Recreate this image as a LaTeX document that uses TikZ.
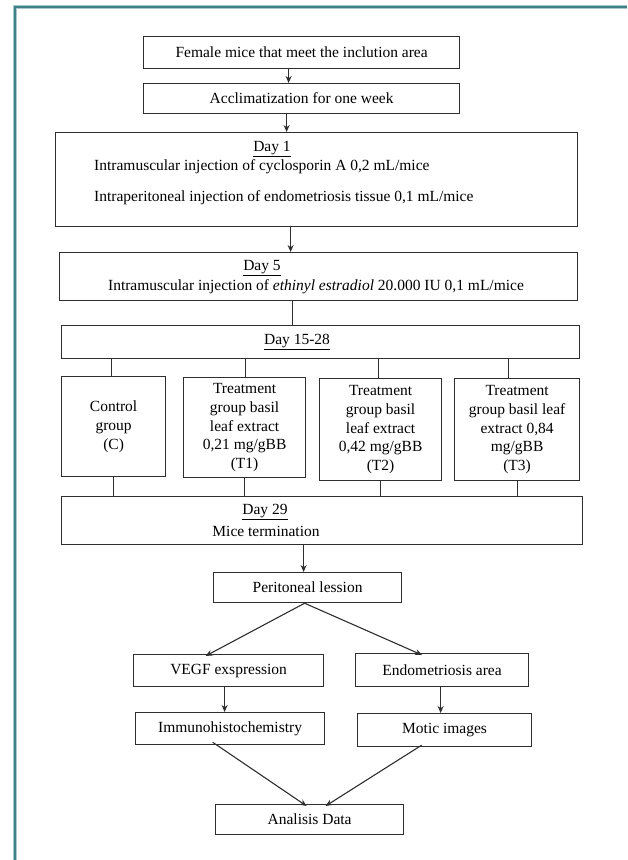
\documentclass[tikz,border=0pt]{standalone}
\usepackage{fontspec}
\setmainfont{Liberation Serif}
\usetikzlibrary{arrows.meta,calc}
\newcommand\myfs{\fontsize{15.5}{18.7}\selectfont}
\definecolor{framec}{HTML}{3F8087}
\definecolor{framel}{HTML}{A9CACD}
\definecolor{linec}{HTML}{2E2E2E}
\begin{document}
\begin{tikzpicture}[x=1pt,y=-1pt,
  box/.style={draw=linec, line width=1.2pt, inner sep=0pt, anchor=north west, font=\myfs, text=black},
  grp/.style={box, align=center},
  txt/.style={inner sep=0pt, font=\myfs},
  conn/.style={draw=linec, line width=1.1pt},
  arr/.style={conn, -{Stealth[length=7pt,width=6pt]}}
]
\useasboundingbox (0,0) rectangle (627,860);
% frame
\draw[framel, line width=4.2pt] (14.8,860) -- (14.8,7) -- (627,7);
\draw[framec, line width=2.6pt] (14.8,860) -- (14.8,7) -- (627,7);

% boxes
\node[box, minimum width=316pt, minimum height=32pt] (b1) at (143,36) {Female mice that meet the inclution area};
\node[box, minimum width=316pt, minimum height=30pt] (b2) at (143,83) {Acclimatization for one week};
\node[box, minimum width=522pt, minimum height=94pt] (b3) at (55,132) {};
\node[box, minimum width=518pt, minimum height=48pt] (b4) at (59,252) {};
\node[box, minimum width=518pt, minimum height=33pt] (b5) at (61,325) {};
\node[grp, minimum width=104pt, minimum height=100pt] (gC) at (61,376) {Control\\group\\(C)};
\node[grp, minimum width=122pt, minimum height=100pt] (g1) at (183,377) {Treatment\\group basil\\leaf extract\\0,21 mg/gBB\\(T1)};
\node[grp, minimum width=122pt, minimum height=102pt] (g2) at (319,378) {Treatment\\group basil\\leaf extract\\0,42 mg/gBB\\(T2)};
\node[grp, minimum width=125pt, minimum height=102pt] (g3) at (454,378) {Treatment\\group basil leaf\\extract 0,84\\mg/gBB\\(T3)};
\node[box, minimum width=521pt, minimum height=48pt] (b6) at (61,496) {};
\node[box, minimum width=188pt, minimum height=30pt] (per) at (213,572) {Peritoneal lession};
\node[box, minimum width=190pt, minimum height=32pt] (vegf) at (133,654) {VEGF exspression};
\node[box, minimum width=173pt, minimum height=33pt] (endo) at (355,653) {Endometriosis area};
\node[box, minimum width=189pt, minimum height=32pt] (imm) at (135,712) {Immunohistochemistry};
\node[box, minimum width=174pt, minimum height=33pt] (motic) at (357,713) {Motic images};
\node[box, minimum width=188pt, minimum height=30pt] (ana) at (215,804) {Analisis Data};

% texts inside multi-line boxes
\node[txt] (d1) at (272,149) {\underline{Day 1}};
\node[txt, anchor=west] (l1) at (94,167) {Intramuscular injection of cyclosporin A 0,2 mL/mice};
\node[txt, anchor=west] (l2) at (94,198) {Intraperitoneal injection of endometriosis tissue 0,1 mL/mice};
\node[txt] (d5) at (262,268) {\underline{Day 5}};
\node[txt] (l5) at (316,287) {Intramuscular injection of \textit{ethinyl estradiol} 20.000 IU 0,1 mL/mice};
\node[txt] (d15) at (297,342) {\underline{Day 15-28}};
\node[txt] (d29) at (265,512) {\underline{Day 29}};
\node[txt] (mt) at (266,531) {Mice termination};

% connectors
\path ([xshift=-13pt]b1.south) coordinate (a1);
\draw[arr] (a1) -- (a1 |- b2.north);
\path ([xshift=-15pt]b2.south) coordinate (a2);
\draw[arr] (a2) -- (a2 |- b3.north);
\path ([xshift=-26pt]b3.south) coordinate (a3);
\draw[arr] (a3) -- (a3 |- b4.north);
\path ([xshift=-26pt]b4.south) coordinate (a4);
\draw[conn] (a4) -- (a4 |- b5.north);

\path ([xshift=-2pt]gC.north) coordinate (t0);
\draw[conn] (t0) -- (t0 |- b5.south);
\path ([xshift=1pt]g1.north) coordinate (t1);
\draw[conn] (t1) -- (t1 |- b5.south);
\path ([xshift=-2pt]g2.north) coordinate (t2);
\draw[conn] (t2) -- (t2 |- b5.south);
\path ([xshift=-8.5pt]g3.north) coordinate (t3);
\draw[conn] (t3) -- (t3 |- b5.south);

\draw[conn] (gC.south) -- (gC.south |- b6.north);
\draw[conn] (g1.south) -- (g1.south |- b6.north);
\draw[conn] (g2.south) -- (g2.south |- b6.north);
\draw[conn] (g3.south) -- (g3.south |- b6.north);

\path ([xshift=-4pt]per.north) coordinate (a6);
\draw[arr] (a6 |- b6.south) -- (a6);

\draw[arr] ([xshift=-3pt]per.south) -- ([xshift=-23pt,yshift=-2pt]vegf.north);
\draw[arr] ([xshift=-3pt]per.south) -- ([xshift=-20pt,yshift=-2pt]endo.north);

\path ([xshift=-4pt]vegf.south) coordinate (a7);
\draw[arr] (a7) -- (a7 |- imm.north);
\path ([xshift=-1.5pt]endo.south) coordinate (a8);
\draw[arr] (a8) -- (a8 |- motic.north);

\draw[arr] ([xshift=-17.5pt,yshift=3pt]imm.south) -- ([xshift=-3pt,yshift=-2pt]ana.north);
\draw[arr] ([xshift=-23pt,yshift=2pt]motic.south) -- ([xshift=16pt,yshift=-2pt]ana.north);
\end{tikzpicture}
\end{document}
